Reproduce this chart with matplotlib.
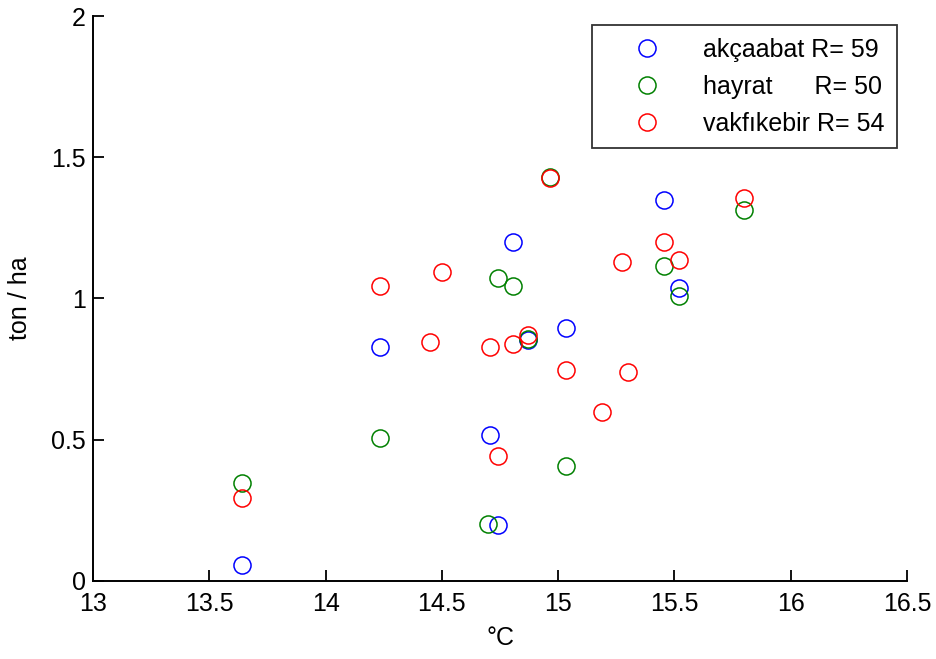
import matplotlib
matplotlib.use('Agg')
import matplotlib.pyplot as plt

# mean temperature (x) and yield (y) per series
akcaabat_x = [13.64, 14.234, 14.707, 14.74, 14.806, 14.87, 15.033, 15.455, 15.52]
akcaabat_y = [0.057, 0.828, 0.517, 0.198, 1.20, 0.852, 0.896, 1.349, 1.037]

hayrat_x = [13.64, 14.234, 14.70, 14.74, 14.806, 14.87, 14.965, 15.033, 15.455, 15.52, 15.80]
hayrat_y = [0.347, 0.506, 0.200, 1.073, 1.044, 0.857, 1.43, 0.407, 1.115, 1.009, 1.313]

vakfikebir_x = [13.64, 14.234, 14.449, 14.50, 14.707, 14.74, 14.806, 14.87, 14.965,
                15.033, 15.19, 15.274, 15.30, 15.455, 15.52, 15.80]
vakfikebir_y = [0.294, 1.044, 0.846, 1.094, 0.828, 0.441, 0.839, 0.870, 1.425,
                0.747, 0.598, 1.129, 0.740, 1.200, 1.136, 1.356]

labels = ['akçaabat R= 59', 'hayrat      R= 50', 'vakfıkebir R= 54']
xticks = [13, 13.5, 14, 14.5, 15, 15.5, 16, 16.5]
yticks = [0, 0.5, 1, 1.5, 2]

plt.rcParams['font.family'] = ['Liberation Sans', 'DejaVu Sans']
plt.rcParams['font.size'] = 18

fig = plt.figure(figsize=(9.36, 6.59), dpi=100)
ax = fig.add_axes([0.0994, 0.1184, 0.8696, 0.8573])

mk = dict(marker='o', linestyle='none', markersize=12.3, markerfacecolor='none', markeredgewidth=1.1)
ax.plot(akcaabat_x, akcaabat_y, color='#0000ff', label=labels[0], **mk)
ax.plot(hayrat_x, hayrat_y, color='#008000', label=labels[1], **mk)
ax.plot(vakfikebir_x, vakfikebir_y, color='#ff0000', label=labels[2], **mk)

ax.set_xlim(13, 16.5)
ax.set_ylim(0, 2)
ax.set_xticks(xticks)
ax.set_xticklabels(['%g' % t for t in xticks])
ax.set_yticks(yticks)
ax.set_yticklabels(['%g' % t for t in yticks])
ax.tick_params(direction='in', length=8, width=1.3)
ax.tick_params(axis='x', pad=8)
ax.tick_params(axis='y', pad=5)
ax.spines['top'].set_visible(False)
ax.spines['right'].set_visible(False)
ax.spines['left'].set_linewidth(1.4)
ax.spines['bottom'].set_linewidth(1.4)

ax.set_xlabel('°C', labelpad=7)
ax.set_ylabel('ton / ha', labelpad=14)

leg = ax.legend(loc='upper right', bbox_to_anchor=(0.9877, 0.984), frameon=True, fancybox=False,
                edgecolor='black', fontsize=18, handletextpad=0.55, borderpad=0.5,
                labelspacing=0.52, handlelength=3.4, borderaxespad=0)
leg.get_frame().set_linewidth(1.3)

fig.savefig('out.png', dpi=100)
